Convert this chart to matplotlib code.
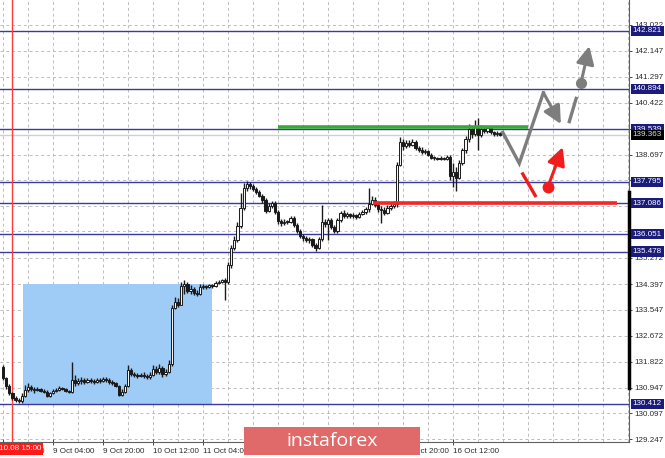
import matplotlib
matplotlib.use("Agg")
import matplotlib.pyplot as plt
import matplotlib.transforms as mtransforms
from matplotlib.patches import Rectangle, FancyBboxPatch

# H1 candles, bar 0 = 8 Oct 12:00
OPEN0 = 131.64
CLOSE = [131.28, 131.01, 130.78, 130.61, 130.54, 130.51, 130.68, 130.88, 130.98, 130.91,
         130.88, 130.91, 130.84, 130.81, 130.68, 130.78, 130.84, 130.88, 130.94, 130.91,
         130.84, 130.81, 131.21, 131.11, 131.18, 131.21, 131.14, 131.21, 131.18, 131.14,
         131.21, 131.18, 131.24, 131.21, 131.14, 131.11, 131.01, 130.71, 130.81, 131.01,
         131.54, 131.41, 131.38, 131.34, 131.38, 131.34, 131.31, 131.38, 131.58, 131.48,
         131.61, 131.41, 131.48, 131.74, 133.60, 133.80, 133.70, 134.33, 134.40, 134.17,
         134.23, 134.10, 134.07, 134.30, 134.33, 134.30, 134.37, 134.33, 134.43, 134.47,
         134.53, 134.47, 135.03, 135.60, 135.86, 136.33, 136.93, 137.59, 137.72, 137.66,
         137.56, 137.46, 137.33, 137.19, 136.83, 136.99, 137.09, 136.79, 136.49, 136.43,
         136.46, 136.46, 136.59, 136.36, 136.16, 135.99, 135.93, 135.86, 135.90, 135.69,
         135.60, 135.90, 136.46, 136.39, 136.53, 136.29, 136.16, 136.53, 136.76, 136.66,
         136.73, 136.66, 136.69, 136.63, 136.73, 136.79, 136.89, 137.06, 137.19, 137.03,
         136.89, 136.86, 136.76, 136.93, 136.99, 137.06, 138.36, 139.12, 138.99, 139.09,
         139.02, 139.12, 138.92, 138.86, 138.79, 138.82, 138.69, 138.59, 138.59, 138.56,
         138.59, 138.56, 138.62, 137.99, 138.12, 137.92, 138.42, 138.86, 139.22, 139.55,
         139.39, 139.65, 139.35, 139.55, 139.49, 139.59, 139.45, 139.39, 139.42, 139.35]
HIGH = [131.71, 131.31, 131.08, 130.81, 130.68, 130.61, 130.78, 131.04, 131.11, 131.04,
        130.98, 130.98, 130.94, 130.91, 130.88, 130.81, 130.91, 130.94, 131.01, 130.98,
        130.94, 130.88, 131.81, 131.38, 131.28, 131.31, 131.28, 131.28, 131.28, 131.24,
        131.28, 131.28, 131.31, 131.31, 131.28, 131.21, 131.14, 131.04, 130.91, 131.08,
        131.71, 131.61, 131.48, 131.44, 131.44, 131.48, 131.41, 131.48, 131.71, 131.67,
        131.74, 131.67, 131.58, 131.87, 133.70, 133.97, 133.93, 134.47, 134.53, 134.47,
        134.37, 134.30, 134.20, 134.40, 134.40, 134.37, 134.40, 134.40, 134.50, 134.53,
        134.57, 134.60, 135.13, 135.69, 135.99, 136.46, 137.43, 137.76, 137.82, 137.79,
        137.72, 137.62, 137.53, 137.39, 137.26, 137.09, 137.16, 137.16, 136.86, 136.56,
        136.56, 136.53, 136.66, 136.66, 136.43, 136.23, 136.06, 135.99, 135.96, 135.93,
        135.76, 135.96, 137.03, 136.56, 136.59, 136.59, 136.36, 136.59, 136.83, 136.86,
        136.79, 136.76, 136.76, 136.73, 136.79, 136.86, 136.96, 137.59, 137.33, 137.29,
        137.09, 136.99, 136.96, 137.03, 137.09, 137.16, 138.46, 139.29, 139.22, 139.19,
        139.19, 139.22, 139.19, 138.99, 138.96, 138.89, 138.86, 138.76, 138.66, 138.62,
        138.66, 138.62, 138.69, 138.69, 138.42, 138.29, 138.52, 138.92, 139.32, 139.72,
        139.62, 139.85, 139.92, 139.69, 139.62, 139.65, 139.62, 139.49, 139.49, 139.45]
LOW = [131.21, 130.91, 130.71, 130.54, 130.48, 130.44, 130.44, 130.64, 130.81, 130.84,
       130.78, 130.84, 130.81, 130.78, 130.64, 130.64, 130.74, 130.81, 130.84, 130.88,
       130.81, 130.78, 130.78, 131.01, 131.04, 131.08, 131.08, 131.11, 131.11, 131.08,
       131.11, 131.11, 131.14, 131.14, 131.08, 131.04, 130.98, 130.68, 130.68, 130.78,
       130.98, 131.34, 131.31, 131.28, 131.31, 131.28, 131.24, 131.24, 131.34, 131.41,
       131.41, 131.31, 131.34, 131.44, 131.67, 133.57, 133.63, 133.73, 134.07, 134.10,
       134.07, 134.03, 134.00, 134.03, 134.23, 134.23, 134.27, 134.27, 134.30, 134.40,
       134.43, 133.87, 134.40, 134.93, 135.53, 135.79, 136.26, 136.86, 137.49, 137.56,
       137.49, 137.39, 137.29, 137.09, 136.76, 136.79, 136.93, 136.73, 136.39, 136.33,
       136.36, 136.39, 136.43, 136.29, 136.09, 135.93, 135.83, 135.79, 135.76, 135.63,
       135.50, 135.56, 135.83, 136.29, 135.86, 136.23, 136.09, 136.09, 136.46, 136.59,
       136.59, 136.59, 136.59, 136.56, 136.59, 136.69, 136.73, 136.79, 137.03, 136.96,
       136.79, 136.43, 136.69, 136.73, 136.86, 136.93, 136.96, 138.32, 138.86, 138.92,
       138.96, 138.99, 138.86, 138.79, 138.72, 138.72, 138.66, 138.56, 138.52, 138.52,
       138.52, 138.52, 138.52, 137.86, 137.62, 137.49, 137.89, 138.36, 138.76, 139.12,
       139.25, 139.32, 138.86, 139.29, 139.42, 139.42, 139.39, 139.32, 139.32, 139.32]

TIME_LABELS = ["8 Oct 12:00", "9 Oct 04:00", "9 Oct 20:00", "10 Oct 12:00", "11 Oct 04:00",
               "11 Oct 20:00", "14 Oct 12:00", "15 Oct 04:00", "15 Oct 20:00", "16 Oct 12:00"]
MARKED_TIME = "2019.10.08 15:00"
MARKED_BAR = 3
PRICE_TICKS = [129.247, 130.097, 130.947, 131.822, 132.672, 133.547, 134.397, 135.272,
               136.147, 136.997, 137.847, 138.697, 139.547, 140.422, 141.297, 142.147, 143.022]
LEVELS = [142.821, 140.894, 139.539, 137.795, 137.086, 136.051, 135.478, 130.412]
BID = 139.363

# drawn objects (bar index, price)
ZONE = (6.4, 66.9, 130.412, 134.40)
GREEN_LINE = (88.0, 168.1, 139.61)
RED_LINE = (118.3, 196.5, 137.10)
GRAY_PATH = [(159.9, 139.44), (165.2, 138.41), (172.9, 140.76)]
GRAY_ARROW = [(172.9, 140.76), (178.5, 139.72)]
GRAY_STROKE = [(181.2, 139.80), (183.4, 140.57)]
GRAY_DOT_ARROW = [(184.9, 141.07), (187.6, 142.31)]
RED_STROKE = [(166.3, 138.06), (170.3, 137.34)]
RED_DOT_ARROW = [(174.3, 137.62), (179.1, 138.95)]

plt.rcParams["font.family"] = ["Liberation Sans", "DejaVu Sans"]

W, H = 665, 458
fig = plt.figure(figsize=(W / 100, H / 100), dpi=100)
ax = fig.add_axes([0, 16 / H, 629 / W, 442 / H])
ax.set_xlim(-0.96, 200.3)
ax.set_ylim(129.148, 143.842)

# grid
for x in range(0, 201, 8):
    ax.axvline(x, color="#bcbcbc", lw=0.7, ls=(0, (3, 3)), zorder=0)
for p in PRICE_TICKS:
    ax.axhline(p, color="#bcbcbc", lw=0.7, ls=(0, (3, 3)), zorder=0)

# zone rectangle
x0, x1, y0, y1 = ZONE
ax.add_patch(Rectangle((x0, y0), x1 - x0, y1 - y0, fc="#9fcbf7", ec="none", zorder=0.5))

# levels
for lv in LEVELS:
    ax.axhline(lv, color="#3a3aa6", lw=1.0, zorder=1)
ax.axhline(BID, color="#cfcfcf", lw=1.0, zorder=1)
ax.axvline(MARKED_BAR, color="#ff3b3b", lw=1.0, zorder=1)

# candles
opens = [OPEN0] + CLOSE[:-1]
for i, (o, c, h, l) in enumerate(zip(opens, CLOSE, HIGH, LOW)):
    ax.vlines(i, l, h, color="#1a1a1a", lw=1.0, zorder=3)
    lo, hi = min(o, c), max(o, c)
    if hi - lo < 0.02:
        hi = lo + 0.02
    fc = "#f4f4f4" if c >= o else "#1a1a1a"
    ax.add_patch(Rectangle((i - 0.36, lo), 0.72, hi - lo, fc=fc, ec="#1a1a1a", lw=0.7, zorder=4))

# analysis lines
ax.plot(GREEN_LINE[:2], [GREEN_LINE[2]] * 2, color="#3aa83a", lw=2.6, zorder=5, solid_capstyle="butt")
ax.plot(RED_LINE[:2], [RED_LINE[2]] * 2, color="#f02828", lw=2.6, zorder=5, solid_capstyle="butt")

gray, red = "#7d7d7d", "#f01d1d"
ax.plot(*zip(*GRAY_PATH), color=gray, lw=2.4, zorder=6, solid_joinstyle="miter")
ax.plot(*zip(*GRAY_STROKE), color=gray, lw=2.4, zorder=6)
ax.plot(*zip(*RED_STROKE), color=red, lw=2.4, zorder=6)
arrow_kw = dict(arrowstyle="-|>,head_length=0.9,head_width=0.45", lw=2.2, shrinkA=0, shrinkB=0,
                mutation_scale=12)
for (a, b), col in [(GRAY_ARROW, gray), (GRAY_DOT_ARROW, gray), (RED_DOT_ARROW, red)]:
    ax.annotate("", xy=b, xytext=a, arrowprops=dict(color=col, **arrow_kw), zorder=6)
ax.plot(*GRAY_DOT_ARROW[0], "o", color=gray, ms=7, zorder=7)
ax.plot(*RED_DOT_ARROW[0], "o", color=red, ms=7.5, zorder=7)

# axes styling
for s in ["top", "left"]:
    ax.spines[s].set_visible(False)
ax.spines["right"].set_color("#606060")
ax.spines["bottom"].set_color("#606060")
ax.yaxis.tick_right()
ax.set_yticks(PRICE_TICKS)
ax.set_yticklabels([f"{p:.3f}" for p in PRICE_TICKS])
ax.tick_params(axis="y", direction="out", length=2.5, width=0.6, pad=1.5, labelsize=5.8,
               colors="#2a2a2a")
ax.set_xticks(range(0, 16 * len(TIME_LABELS), 16))
ax.set_xticklabels(TIME_LABELS)
for t in ax.get_xticklabels():
    t.set_horizontalalignment("left")
ax.tick_params(axis="x", direction="inout", length=4, width=0.6, pad=2.5, labelsize=5.8,
               colors="#2a2a2a")

trans = mtransforms.blended_transform_factory(ax.transAxes, ax.transData)
for lv in LEVELS:
    ax.text(1.006, lv, f"{lv:.3f}", transform=trans, ha="left", va="center", fontsize=5.8,
            color="white", clip_on=False, zorder=10,
            bbox=dict(boxstyle="square,pad=0.2", fc="#1b1b7c", ec="none"))
ax.text(1.006, BID, f"{BID:.3f}", transform=trans, ha="left", va="center", fontsize=5.8,
        color="#dddddd", clip_on=False, zorder=10,
        bbox=dict(boxstyle="square,pad=0.2", fc="black", ec="none"))
ax.plot([1.0, 1.0], [130.95, 137.46], transform=trans, color="black", lw=2.5, clip_on=False,
        zorder=9)

fig.text(41 / W, 1 - 449 / H, MARKED_TIME, ha="right", va="center", fontsize=5.8, color="white",
         bbox=dict(boxstyle="square,pad=0.25", fc="#ff1a1a", ec="none"))

# watermark
fig.patches.append(FancyBboxPatch((244 / W, 1 - 455 / H), 176 / W, 28 / H,
                                  boxstyle="square,pad=0", transform=fig.transFigure,
                                  fc="#e06a6a", ec="none", zorder=20))
fig.text(332 / W, 1 - 441 / H, "instaforex", ha="center", va="center", fontsize=14,
         color="white", family="Open Sans", zorder=21)

fig.savefig("out.png", dpi=100)
